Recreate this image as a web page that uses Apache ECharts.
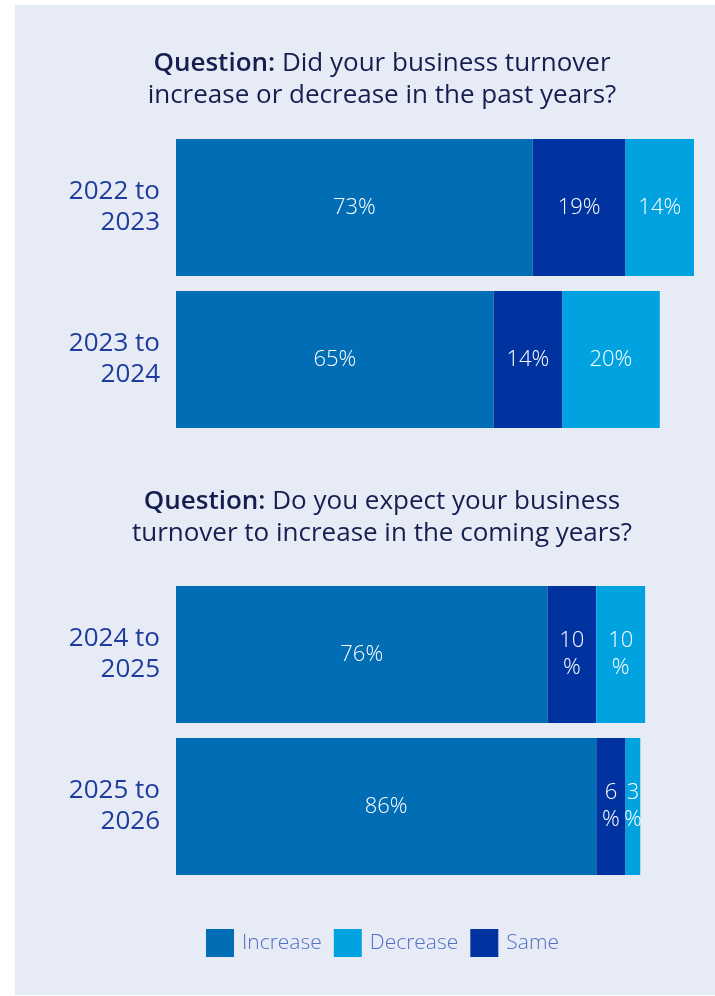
<!DOCTYPE html>
<html>
<head>
<meta charset="utf-8">
<style>
  html, body { margin: 0; padding: 0; background: #ffffff; }
  #chart { width: 715px; height: 996px; }
</style>
<script src="https://cdn.jsdelivr.net/npm/echarts@6/dist/echarts.min.js"></script>
</head>
<body>
<div id="chart"></div>
<script>
// Survey answers on business turnover (percent of respondents)
const pastPeriods = ['2022 to\n2023', '2023 to\n2024'];
const pastIncrease = [73, 65];
const pastSame = [19, 14];
const pastDecrease = [14, 20];

const futurePeriods = ['2024 to\n2025', '2025 to\n2026'];
const futureIncrease = [76, 86];
const futureSame = [10, 6];
const futureDecrease = [10, 3];

const legendNames = ['Increase', 'Decrease', 'Same'];

const COLORS = { Increase: '#006db5', Same: '#0033a0', Decrease: '#00a2e0' };
const FONT = '"Open Sans", Lato, sans-serif';

const chart = echarts.init(document.getElementById('chart'), null, { renderer: 'canvas' });

function pctLabel(p) {
  // narrow segments put the percent sign on its own line
  return p.value <= 10 ? p.value + '\n%' : p.value + '%';
}

function barSeries(name, data, idx) {
  return {
    name: name,
    type: 'bar',
    stack: 'grid' + idx,
    xAxisIndex: idx,
    yAxisIndex: idx,
    barWidth: 137,
    data: data,
    itemStyle: { color: COLORS[name] },
    label: {
      show: true,
      position: 'inside',
      formatter: pctLabel,
      color: '#ffffff',
      fontFamily: FONT,
      fontWeight: 300,
      fontSize: 22,
      lineHeight: 27
    },
    emphasis: { disabled: true }
  };
}

function titleText(top, line1Rest, line2) {
  return {
    left: 377,
    top: top,
    textAlign: 'center',
    text: '{b|Question:}{n| ' + line1Rest + '}\n{n|' + line2 + '}',
    textStyle: {
      rich: {
        b: { fontFamily: FONT, fontSize: 26, fontWeight: 600, color: '#141f4f', lineHeight: 32 },
        n: { fontFamily: FONT, fontSize: 26, fontWeight: 'normal', color: '#141f4f', lineHeight: 32 }
      }
    }
  };
}

const xAxisCommon = { type: 'value', min: 0, max: 106, show: false };
const yAxisCommon = {
  type: 'category',
  inverse: true,
  axisLine: { show: false },
  axisTick: { show: false },
  splitLine: { show: false },
  axisLabel: {
    color: '#1d3c9e',
    fontFamily: FONT,
    fontWeight: 'normal',
    fontSize: 26,
    lineHeight: 31,
    margin: 16,
    padding: [5, 0, 0, 0],
    align: 'right'
  }
};

chart.setOption({
  backgroundColor: '#ffffff',
  animation: false,
  graphic: [{
    type: 'rect',
    z: -10,
    shape: { x: 15, y: 5, width: 700, height: 990 },
    style: { fill: '#e7ebf6' }
  }],
  title: [
    titleText(43, 'Did your business turnover', 'increase or decrease in the past years?'),
    titleText(481, 'Do you expect your business', 'turnover to increase in the coming years?')
  ],
  legend: {
    data: legendNames,
    left: 206,
    top: 929,
    padding: 0,
    itemWidth: 28,
    itemHeight: 28,
    itemGap: 12,
    icon: 'rect',
    selectedMode: false,
    textStyle: { color: '#5271c4', fontFamily: FONT, fontWeight: 300, fontSize: 21, padding: [0, 0, 0, 3] }
  },
  grid: [
    { left: 176, width: 518, top: 131.5, height: 304 },
    { left: 176, width: 518, top: 578.5, height: 304 }
  ],
  xAxis: [
    Object.assign({ gridIndex: 0 }, xAxisCommon),
    Object.assign({ gridIndex: 1 }, xAxisCommon)
  ],
  yAxis: [
    Object.assign({ gridIndex: 0, data: pastPeriods }, yAxisCommon),
    Object.assign({ gridIndex: 1, data: futurePeriods }, yAxisCommon)
  ],
  series: [
    barSeries('Increase', pastIncrease, 0),
    barSeries('Same', pastSame, 0),
    barSeries('Decrease', pastDecrease, 0),
    barSeries('Increase', futureIncrease, 1),
    barSeries('Same', futureSame, 1),
    barSeries('Decrease', futureDecrease, 1)
  ]
});
</script>
</body>
</html>
